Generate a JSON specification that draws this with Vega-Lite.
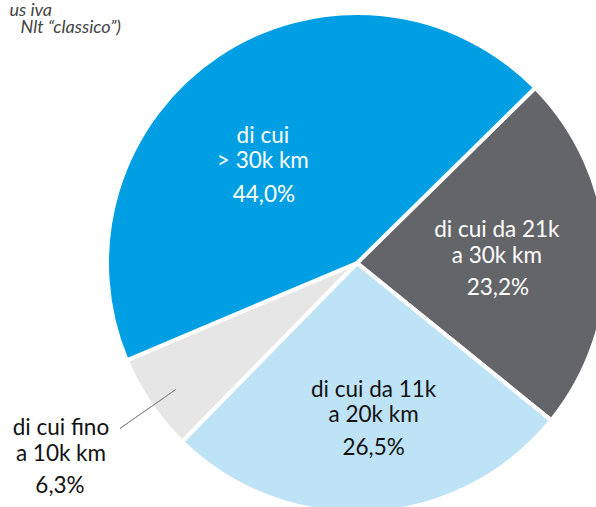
{
  "$schema": "https://vega.github.io/schema/vega-lite/v6.json",
  "width": 714,
  "height": 526,
  "autosize": "none",
  "padding": 0,
  "background": "white",
  "config": {"view": {"stroke": null}},
  "data": {
    "values": [
      {"ordine": 1, "fascia": "da 21k a 30k km", "quota": 23.2, "descrizione": "di cui da 21k\na 30k km", "percentuale": "23,2%"},
      {"ordine": 2, "fascia": "da 11k a 20k km", "quota": 26.5, "descrizione": "di cui da 11k\na 20k km", "percentuale": "26,5%"},
      {"ordine": 3, "fascia": "fino a 10k km", "quota": 6.3, "descrizione": "di cui fino\na 10k km", "percentuale": "6,3%"},
      {"ordine": 4, "fascia": "> 30k km", "quota": 44.0, "descrizione": "di cui\n> 30k km", "percentuale": "44,0%"}
    ]
  },
  "layer": [
    {
      "encoding": {
        "theta": {"field": "quota", "type": "quantitative", "stack": true, "scale": {"domain": [0, 100], "range": [0.794, 7.077]}},
        "order": {"field": "ordine", "type": "quantitative", "sort": "ascending"}
      },
      "layer": [
        {
          "mark": {"type": "arc", "outerRadius": 250, "stroke": "#ffffff", "strokeWidth": 4},
          "encoding": {
            "color": {"field": "fascia", "type": "nominal", "legend": null,
              "scale": {"domain": ["da 21k a 30k km", "da 11k a 20k km", "fino a 10k km", "> 30k km"],
                        "range": ["#646569", "#bee3f7", "#e6e6e6", "#009fe3"]}}
          }
        },
        {
          "mark": {"type": "text", "radius": 130, "dx": -22, "dy": -12, "align": "center", "baseline": "alphabetic", "lineBreak": "\n", "lineHeight": 25.5, "font": "Lato", "fontSize": 22.5, "color": "#ffffff"},
          "encoding": {"text": {"condition": {"test": "datum.ordine === 4", "field": "descrizione"}, "value": ""}}
        },
        {
          "mark": {"type": "text", "radius": 130, "dx": -21, "dy": 47, "align": "center", "baseline": "alphabetic", "font": "Lato", "fontSize": 22.5, "color": "#ffffff"},
          "encoding": {"text": {"condition": {"test": "datum.ordine === 4", "field": "percentuale"}, "value": ""}}
        },
        {
          "mark": {"type": "text", "radius": 140, "dx": 0, "dy": -19, "align": "center", "baseline": "alphabetic", "lineBreak": "\n", "lineHeight": 25.5, "font": "Lato", "fontSize": 22.5, "color": "#ffffff"},
          "encoding": {"text": {"condition": {"test": "datum.ordine === 1", "field": "descrizione"}, "value": ""}}
        },
        {
          "mark": {"type": "text", "radius": 140, "dx": 1, "dy": 39, "align": "center", "baseline": "alphabetic", "font": "Lato", "fontSize": 22.5, "color": "#ffffff"},
          "encoding": {"text": {"condition": {"test": "datum.ordine === 1", "field": "percentuale"}, "value": ""}}
        },
        {
          "mark": {"type": "text", "radius": 150, "dx": 8, "dy": -16, "align": "center", "baseline": "alphabetic", "lineBreak": "\n", "lineHeight": 25.5, "font": "Lato", "fontSize": 22.5, "color": "#111111"},
          "encoding": {"text": {"condition": {"test": "datum.ordine === 2", "field": "descrizione"}, "value": ""}}
        },
        {
          "mark": {"type": "text", "radius": 150, "dx": 8, "dy": 42, "align": "center", "baseline": "alphabetic", "font": "Lato", "fontSize": 22.5, "color": "#111111"},
          "encoding": {"text": {"condition": {"test": "datum.ordine === 2", "field": "percentuale"}, "value": ""}}
        },
        {
          "mark": {"type": "text", "radius": 340, "dx": -15, "dy": -19, "align": "center", "baseline": "alphabetic", "lineBreak": "\n", "lineHeight": 25.5, "font": "Lato", "fontSize": 22.5, "color": "#111111"},
          "encoding": {"text": {"condition": {"test": "datum.ordine === 3", "field": "descrizione"}, "value": ""}}
        },
        {
          "mark": {"type": "text", "radius": 340, "dx": -16, "dy": 39, "align": "center", "baseline": "alphabetic", "font": "Lato", "fontSize": 22.5, "color": "#111111"},
          "encoding": {"text": {"condition": {"test": "datum.ordine === 3", "field": "percentuale"}, "value": ""}}
        }
      ]
    },
    {
      "transform": [{"filter": "datum.ordine === 3"}],
      "mark": {"type": "arc", "theta": 4.103, "theta2": 4.103, "radius": 221, "radius2": 289, "filled": false, "stroke": "#8c8c8c", "strokeWidth": 1},
      "encoding": {}
    },
    {
      "transform": [{"filter": "datum.ordine === 3"}],
      "mark": {"type": "text", "theta": 5.3933, "radius": 392.5, "align": "right", "baseline": "alphabetic", "font": "Lato", "fontStyle": "italic", "fontSize": 18, "color": "#444444"},
      "encoding": {"text": {"value": "us iva"}}
    },
    {
      "transform": [{"filter": "datum.ordine === 3"}],
      "mark": {"type": "text", "theta": 5.4848, "radius": 329.5, "align": "right", "baseline": "alphabetic", "font": "Lato", "fontStyle": "italic", "fontSize": 18, "color": "#444444"},
      "encoding": {"text": {"value": "Nlt \u201cclassico\u201d)"}}
    }
  ]
}
